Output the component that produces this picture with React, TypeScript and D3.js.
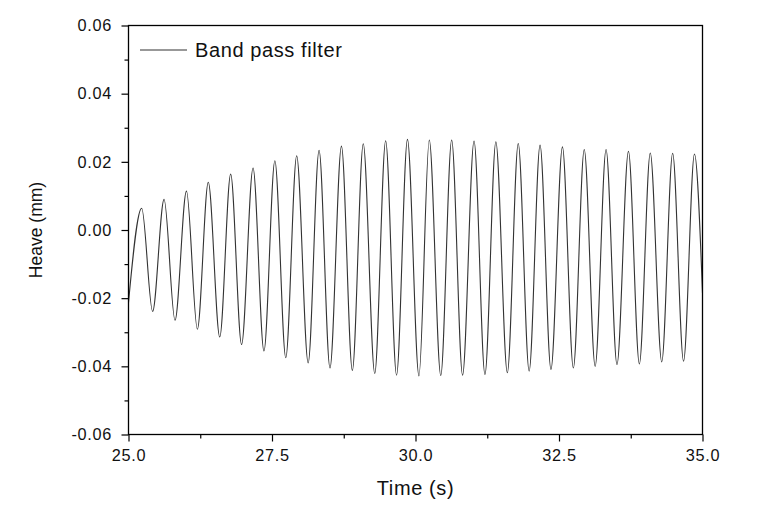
import React, { useEffect, useRef } from 'react';
import * as d3 from 'd3';

// values
const startPoint = { t: 25.0, v: -0.0213 };
const endPoint = { t: 35.0, v: -0.0185 };

const peakTimes = [25.23, 25.62, 26.01, 26.39, 26.78, 27.17, 27.55, 27.93, 28.32, 28.71, 29.09, 29.48, 29.86,
  30.24, 30.63, 31.02, 31.40, 31.79, 32.17, 32.56, 32.94, 33.32, 33.71, 34.09, 34.48, 34.86];
const peakValues = [0.0064, 0.0090, 0.0114, 0.0140, 0.0164, 0.0182, 0.0203, 0.0218, 0.0234, 0.0246, 0.0253, 0.0262, 0.0266,
  0.0264, 0.0264, 0.0261, 0.0259, 0.0254, 0.0249, 0.0244, 0.0236, 0.0236, 0.0231, 0.0226, 0.0225, 0.0223];

const troughTimes = [25.42, 25.81, 26.20, 26.59, 26.97, 27.36, 27.74, 28.13, 28.51, 28.90, 29.29, 29.67, 30.06,
  30.44, 30.82, 31.21, 31.60, 31.98, 32.36, 32.75, 33.13, 33.51, 33.90, 34.29, 34.67];
const troughValues = [-0.0239, -0.0265, -0.0291, -0.0314, -0.0336, -0.0355, -0.0375, -0.0390, -0.0405, -0.0412, -0.0421, -0.0426, -0.0428,
  -0.0427, -0.0426, -0.0424, -0.0419, -0.0414, -0.0409, -0.0405, -0.0400, -0.0395, -0.0393, -0.0387, -0.0385];

const xMajorTicks = [25, 27.5, 30, 32.5, 35];
const xMinorTicks = [26.25, 28.75, 31.25, 33.75];
const yMajorTicks = [-0.06, -0.04, -0.02, 0, 0.02, 0.04, 0.06];
const yMinorTicks = [-0.05, -0.03, -0.01, 0.01, 0.03, 0.05];

const seriesName = 'Band pass filter';
const xTitle = 'Time (s)';
const yTitle = 'Heave (mm)';

const W = 761;
const H = 508;
const margin = { top: 25.5, right: 58.5, bottom: 73.5, left: 128.5 };
const font = 'Liberation Sans, Arial, sans-serif';

// plain hyphen for negatives, like the original
const fmt = (spec: string) => (d: d3.NumberValue) => d3.format(spec)(d).replace('\u2212', '-');

const App = () => {
  const ref = useRef<SVGSVGElement>(null);

  useEffect(() => {
    const svg = d3.select(ref.current);
    svg.selectAll('*').remove();

    const innerW = W - margin.left - margin.right;
    const innerH = H - margin.top - margin.bottom;

    const x = d3.scaleLinear().domain([25, 35]).range([0, innerW]);
    const y = d3.scaleLinear().domain([-0.06, 0.06]).range([innerH, 0]);

    // merge the extrema into one time-ordered series
    const points = [startPoint]
      .concat(peakTimes.map((t, i) => ({ t, v: peakValues[i] })))
      .concat(troughTimes.map((t, i) => ({ t, v: troughValues[i] })))
      .concat([endPoint])
      .sort((a, b) => a.t - b.t);

    const g = svg.append('g').attr('transform', `translate(${margin.left},${margin.top})`);

    const line = d3.line<{ t: number; v: number }>()
      .x(d => x(d.t))
      .y(d => y(d.v))
      .curve(d3.curveMonotoneX);

    g.append('path')
      .datum(points)
      .attr('d', line)
      .attr('fill', 'none')
      .attr('stroke', '#333')
      .attr('stroke-width', 1.1);

    // frame
    g.append('rect')
      .attr('width', innerW)
      .attr('height', innerH)
      .attr('fill', 'none')
      .attr('stroke', '#000')
      .attr('stroke-width', 1.3);

    // bottom axis
    const xAxis = g.append('g').attr('transform', `translate(0,${innerH})`);
    xAxis.call(
      d3.axisBottom(x).tickValues(xMajorTicks).tickSize(7).tickPadding(8).tickFormat(fmt('.1f'))
    );
    xAxis.append('g').call(d3.axisBottom(x).tickValues(xMinorTicks).tickSize(4).tickFormat(() => ''));

    // left axis
    const yAxis = g.append('g');
    yAxis.call(
      d3.axisLeft(y).tickValues(yMajorTicks).tickSize(7).tickPadding(9.5).tickFormat(fmt('.2f'))
    );
    yAxis.append('g').call(d3.axisLeft(y).tickValues(yMinorTicks).tickSize(4).tickFormat(() => ''));

    svg.selectAll('.domain').remove();
    svg.selectAll('.tick line').attr('stroke', '#000').attr('stroke-width', 1.2);
    svg.selectAll('.tick text')
      .attr('font-family', font)
      .attr('font-size', 16.3)
      .attr('letter-spacing', 0.7)
      .attr('fill', '#111');

    // axis titles
    svg.append('text')
      .attr('x', margin.left + innerW / 2)
      .attr('y', 495)
      .attr('text-anchor', 'middle')
      .attr('font-family', font)
      .attr('font-size', 20)
      .attr('letter-spacing', 0.6)
      .attr('fill', '#111')
      .text(xTitle);

    svg.append('text')
      .attr('transform', `translate(42,${margin.top + innerH / 2}) rotate(-90)`)
      .attr('text-anchor', 'middle')
      .attr('font-family', font)
      .attr('font-size', 17.5)
      .attr('fill', '#111')
      .text(yTitle);

    // legend
    const legend = svg.append('g').attr('transform', 'translate(140,50)');
    legend.append('line')
      .attr('x1', 0)
      .attr('x2', 47)
      .attr('stroke', '#333')
      .attr('stroke-width', 1.1);
    legend.append('text')
      .attr('x', 55)
      .attr('y', 7)
      .attr('font-family', font)
      .attr('font-size', 20)
      .attr('letter-spacing', 0.6)
      .attr('fill', '#111')
      .text(seriesName);
  }, []);

  return <svg ref={ref} width={W} height={H} style={{ display: 'block', position: 'absolute', left: 0, top: 0 }} />;
};

export default App;
